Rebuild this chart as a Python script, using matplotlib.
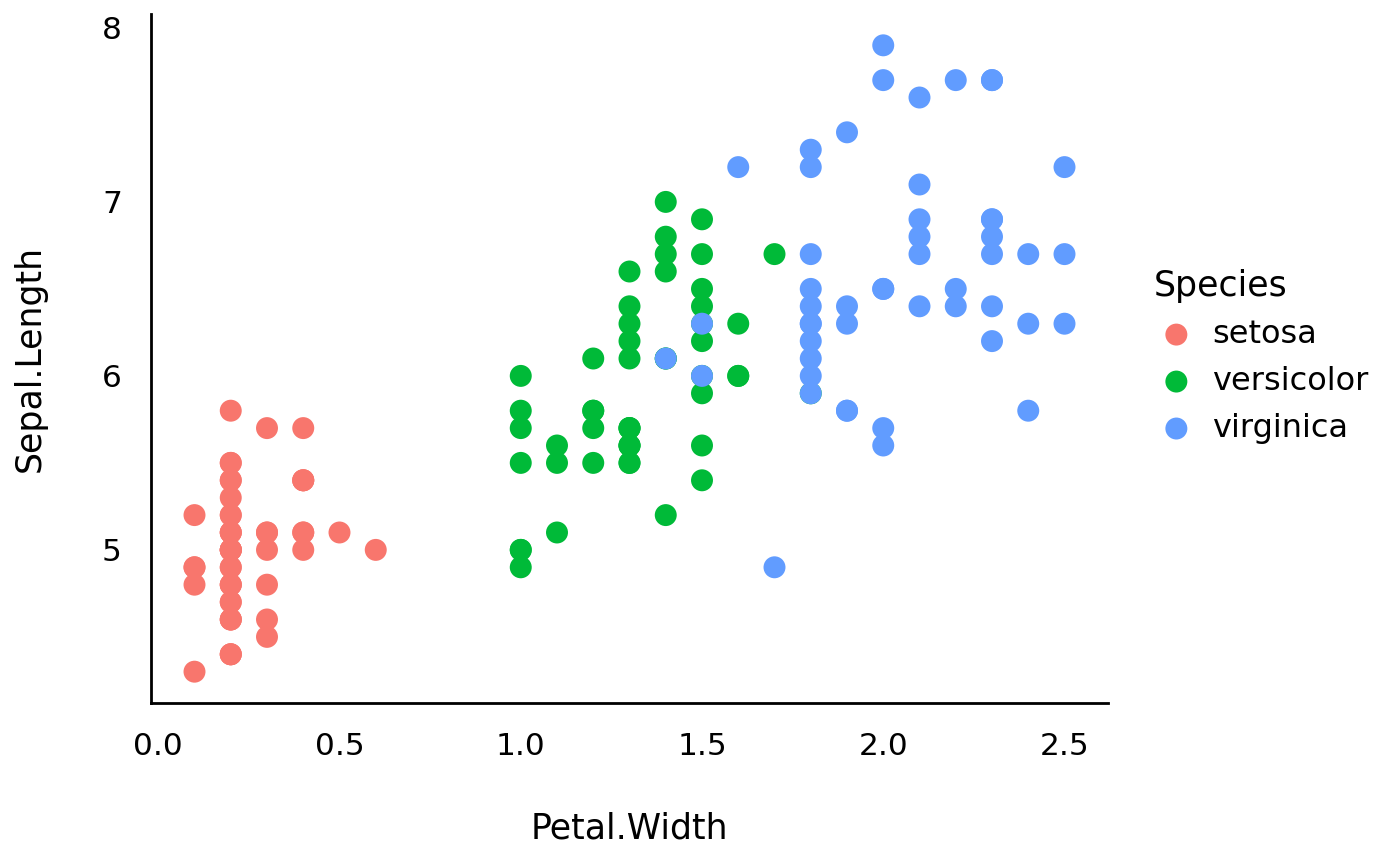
import numpy as np
import matplotlib
matplotlib.use("Agg")
import matplotlib.pyplot as plt

# iris: Petal.Width / Sepal.Length by species
setosa_pw = [0.2, 0.2, 0.2, 0.2, 0.2, 0.4, 0.3, 0.2, 0.2, 0.1,
             0.2, 0.2, 0.1, 0.1, 0.2, 0.4, 0.4, 0.3, 0.3, 0.3,
             0.2, 0.4, 0.2, 0.5, 0.2, 0.2, 0.4, 0.2, 0.2, 0.2,
             0.2, 0.4, 0.1, 0.2, 0.2, 0.2, 0.2, 0.1, 0.2, 0.2,
             0.3, 0.3, 0.2, 0.6, 0.4, 0.3, 0.2, 0.2, 0.2, 0.2]
setosa_sl = [5.1, 4.9, 4.7, 4.6, 5.0, 5.4, 4.6, 5.0, 4.4, 4.9,
             5.4, 4.8, 4.8, 4.3, 5.8, 5.7, 5.4, 5.1, 5.7, 5.1,
             5.4, 5.1, 4.6, 5.1, 4.8, 5.0, 5.0, 5.2, 5.2, 4.7,
             4.8, 5.4, 5.2, 5.5, 4.9, 5.0, 5.5, 4.9, 4.4, 5.1,
             5.0, 4.5, 4.4, 5.0, 5.1, 4.8, 5.1, 4.6, 5.3, 5.0]

versicolor_pw = [1.4, 1.5, 1.5, 1.3, 1.5, 1.3, 1.6, 1.0, 1.3, 1.4,
                 1.0, 1.5, 1.0, 1.4, 1.3, 1.4, 1.5, 1.0, 1.5, 1.1,
                 1.8, 1.3, 1.5, 1.2, 1.3, 1.4, 1.4, 1.7, 1.5, 1.0,
                 1.1, 1.0, 1.2, 1.6, 1.5, 1.6, 1.5, 1.3, 1.3, 1.3,
                 1.2, 1.4, 1.2, 1.0, 1.3, 1.2, 1.3, 1.3, 1.1, 1.3]
versicolor_sl = [7.0, 6.4, 6.9, 5.5, 6.5, 5.7, 6.3, 4.9, 6.6, 5.2,
                 5.0, 5.9, 6.0, 6.1, 5.6, 6.7, 5.6, 5.8, 6.2, 5.6,
                 5.9, 6.1, 6.3, 6.1, 6.4, 6.6, 6.8, 6.7, 6.0, 5.7,
                 5.5, 5.5, 5.8, 6.0, 5.4, 6.0, 6.7, 6.3, 5.6, 5.5,
                 5.5, 6.1, 5.8, 5.0, 5.6, 5.7, 5.7, 6.2, 5.1, 5.7]

virginica_pw = [2.5, 1.9, 2.1, 1.8, 2.2, 2.1, 1.7, 1.8, 1.8, 2.5,
                2.0, 1.9, 2.1, 2.0, 2.4, 2.3, 1.8, 2.2, 2.3, 1.5,
                2.3, 2.0, 2.0, 1.8, 2.1, 1.8, 1.8, 1.8, 2.1, 1.6,
                1.9, 2.0, 2.2, 1.5, 1.4, 2.3, 2.4, 1.8, 1.8, 2.1,
                2.4, 2.3, 1.9, 2.3, 2.5, 2.3, 1.9, 2.0, 2.3, 1.8]
virginica_sl = [6.3, 5.8, 7.1, 6.3, 6.5, 7.6, 4.9, 7.3, 6.7, 7.2,
                6.5, 6.4, 6.8, 5.7, 5.8, 6.4, 6.5, 7.7, 7.7, 6.0,
                6.9, 5.6, 7.7, 6.3, 6.7, 7.2, 6.2, 6.1, 6.4, 7.2,
                7.4, 7.9, 6.4, 6.3, 6.1, 7.7, 6.3, 6.4, 6.0, 6.9,
                6.7, 6.9, 5.8, 6.8, 6.7, 6.7, 6.3, 6.5, 6.2, 5.9]

species = ["setosa", "versicolor", "virginica"]
colors = ["#F8766D", "#00BA38", "#619CFF"]

plt.rcParams['font.family'] = ['DejaVu Sans']

fig = plt.figure(figsize=(14, 8.66), dpi=100)
ax = fig.add_axes([151 / 1400, 1 - 703 / 866, (1108 - 151) / 1400, (703 - 14) / 866])

groups = [(setosa_pw, setosa_sl), (versicolor_pw, versicolor_sl), (virginica_pw, virginica_sl)]
for (pw, sl), name, col in zip(groups, species, colors):
    ax.scatter(pw, sl, s=250, color=col, edgecolors='none', label=name)

ax.set_xlim(-0.02, 2.62)
ax.set_ylim(4.12, 8.08)
ax.set_xticks([0.0, 0.5, 1.0, 1.5, 2.0, 2.5])
ax.set_xticklabels(["0.0", "0.5", "1.0", "1.5", "2.0", "2.5"])
ax.set_yticks([5, 6, 7, 8])
ax.tick_params(length=0, labelsize=22.5, pad=21)

for side in ['top', 'right']:
    ax.spines[side].set_visible(False)
for side in ['left', 'bottom']:
    ax.spines[side].set_linewidth(2)

ax.set_xlabel("Petal.Width", fontsize=25, labelpad=36)
ax.set_ylabel("Sepal.Length", fontsize=25, labelpad=40)

leg = ax.legend(title="Species", loc='upper left', bbox_to_anchor=(1154 / 1400, 1 - 269 / 866),
                bbox_transform=fig.transFigure, frameon=False, fontsize=23,
                title_fontsize=25, alignment='left', borderpad=0, borderaxespad=0,
                handlelength=1.4, handletextpad=0.43, labelspacing=0.5, scatterpoints=1)

fig.savefig("out.png", dpi=100)
